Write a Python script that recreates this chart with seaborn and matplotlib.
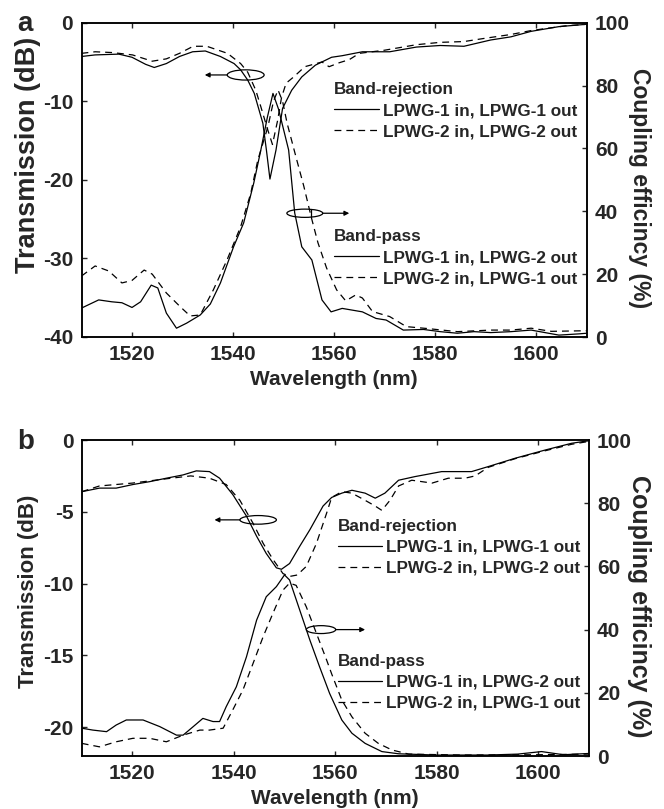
import numpy as np
import matplotlib
matplotlib.use('Agg')
import matplotlib.pyplot as plt
import seaborn as sns
from matplotlib.patches import Ellipse
from matplotlib.lines import Line2D

# ---- panel a : band-rejection (dB, left axis) ----
rej_a_x = [1510, 1512.7, 1517.4, 1520, 1522.7, 1524.4, 1526.8, 1529.4, 1532, 1534.5, 1537.5,
           1540.2, 1541.5, 1542.9, 1544.2, 1545.9, 1546.6, 1547.3, 1548.5, 1549.8, 1551.6, 1553.6,
           1556.3, 1559.5, 1561.6, 1565.6, 1571, 1576.3, 1581, 1585.7, 1591, 1595, 1599, 1604.5, 1610]
rej_a_y = [-4.3, -4.1, -4.0, -4.4, -5.3, -5.7, -5.2, -4.3, -3.7, -3.6, -4.3,
           -5.2, -6.0, -7.3, -9.0, -12.8, -16.2, -19.9, -16.2, -10.9, -8.6, -6.9,
           -5.4, -4.4, -4.2, -3.7, -3.7, -3.1, -2.9, -3.0, -2.2, -1.8, -1.1, -0.5, -0.2]
rej_a_dx = [1510, 1512.7, 1516.1, 1520.1, 1524, 1526.8, 1529.4, 1532.1, 1534.8, 1538.9, 1541.5,
            1542.9, 1544.5, 1545.5, 1546.8, 1547.8, 1548.8, 1549.6, 1550.5, 1552, 1554.2, 1557.6,
            1559, 1561, 1563, 1565, 1570, 1576.3, 1581, 1585.7, 1589.7, 1595, 1599, 1605.8, 1610]
rej_a_dy = [-3.9, -3.7, -3.8, -4.1, -4.9, -4.6, -3.9, -3.0, -3.0, -3.9, -5.2,
            -6.3, -8.6, -10.7, -13.5, -15.5, -12.5, -9.5, -7.7, -6.9, -5.6, -5.0,
            -5.6, -5.1, -4.7, -3.9, -3.5, -2.8, -2.5, -2.4, -2.0, -1.5, -1.0, -0.4, -0.2]

# ---- panel a : band-pass (%, right axis) ----
bp_a_x = [1510, 1513.4, 1516, 1518, 1520, 1521.7, 1523.8, 1525.1, 1526.8, 1528.8, 1530.8, 1533.5,
          1535.5, 1537.5, 1540.1, 1542.1, 1544.1, 1545.5, 1546.8, 1547.9, 1549, 1551, 1552.2,
          1553.6, 1555.6, 1557.6, 1559.4, 1561.6, 1565.6, 1568.3, 1570.3, 1573.7, 1577.7, 1581,
          1584.4, 1587.7, 1591, 1595, 1599, 1604.5, 1608.5, 1610]
bp_a_y = [9.2, 11.8, 11.2, 10.9, 9.4, 11.2, 16.5, 15.6, 7.6, 2.8, 4.4, 7.0,
          10.5, 17.2, 28.7, 36.3, 49.0, 59.5, 70.0, 77.5, 72.5, 59.5, 39.5,
          28.7, 24.5, 11.8, 8.0, 9.1, 8.0, 5.9, 5.4, 2.2, 2.4, 1.7,
          1.2, 1.7, 1.4, 1.7, 2.2, 0.6, 1.0, 1.2]
bp_a_dx = [1510, 1512.7, 1515.4, 1518, 1520, 1522.4, 1524, 1526.8, 1529.5, 1531.5, 1533.5, 1536.1,
           1538.8, 1541.5, 1543.5, 1544.9, 1546.9, 1548, 1548.9, 1549.8, 1550.7, 1552.5, 1554,
           1555.5, 1556.8, 1558.5, 1560.5, 1562.3, 1564.3, 1565.6, 1567.6, 1571, 1574.3, 1578.4,
           1584.4, 1591, 1595, 1599, 1603, 1610]
bp_a_dy = [19.4, 22.6, 21.0, 17.2, 18.0, 21.3, 20.0, 14.0, 9.7, 6.7, 7.0, 15.0,
           24.5, 35.1, 45.7, 56.3, 66.9, 75.0, 78.6, 75.0, 68.0, 57.0, 48.0,
           38.0, 30.0, 22.0, 15.0, 11.5, 13.4, 12.4, 8.1, 6.5, 3.3, 2.7,
           1.7, 2.2, 2.2, 2.8, 1.8, 2.0]

# ---- panel b : band-rejection (dB) ----
rej_b_x = [1510, 1513.5, 1516.8, 1520.1, 1523.4, 1526.7, 1530, 1532.6, 1535.2, 1537.2, 1539.8,
           1542.5, 1544.5, 1546.4, 1548.4, 1549.4, 1551, 1553, 1555, 1557.6, 1559.3, 1561.3,
           1563.3, 1565.9, 1567.9, 1569.8, 1572.5, 1575.7, 1581, 1586.9, 1590.2, 1595.5, 1601.4,
           1606.6, 1610]
rej_b_y = [-3.6, -3.35, -3.35, -3.1, -2.9, -2.66, -2.43, -2.15, -2.2, -2.66, -3.8,
           -5.3, -6.7, -7.9, -8.9, -9.0, -8.6, -7.4, -6.25, -4.6, -4.0, -3.7,
           -3.5, -3.7, -4.05, -3.7, -2.8, -2.55, -2.2, -2.2, -1.85, -1.27, -0.7,
           -0.23, -0.05]
rej_b_dx = [1510, 1513.5, 1520, 1526.7, 1531.5, 1535.2, 1538.5, 1541.2, 1543.8, 1545.8, 1547.7,
            1549.7, 1551, 1552.5, 1554.3, 1556.3, 1558.3, 1559.3, 1561.3, 1563.3, 1565.9, 1567.9,
            1569.2, 1570.8, 1572.5, 1575.1, 1579.1, 1582.3, 1585.6, 1587.6, 1590.2, 1595.5,
            1601.4, 1606.6, 1610]
rej_b_dy = [-3.6, -3.2, -3.0, -2.7, -2.5, -2.66, -3.1, -4.2, -5.8, -7.2, -8.3,
            -9.3, -9.5, -9.4, -8.8, -7.2, -5.1, -4.0, -3.6, -3.7, -4.2, -4.6,
            -4.9, -4.2, -3.2, -2.8, -3.0, -2.66, -2.66, -2.5, -1.9, -1.3,
            -0.75, -0.3, -0.1]

# ---- panel b : band-pass (%) ----
bp_b_x = [1510, 1512.2, 1514.9, 1516.8, 1518.8, 1522.1, 1525.4, 1528.7, 1530, 1532, 1533.9,
          1535.9, 1537.2, 1538.5, 1540.5, 1542.5, 1544.5, 1546.4, 1548.4, 1550, 1551, 1553,
          1555, 1556.9, 1558.9, 1561.3, 1563.3, 1565.9, 1569.2, 1572.5, 1580, 1590, 1596,
          1600.7, 1605, 1610]
bp_b_y = [8.8, 8.2, 7.7, 9.8, 11.4, 11.4, 9.3, 6.6, 6.6, 9.3, 11.9,
          10.9, 10.9, 15.6, 21.9, 31.4, 43.0, 50.4, 53.6, 57.3, 55.7, 46.2,
          36.7, 28.3, 19.8, 11.4, 7.2, 4.0, 1.4, 0.7, 0.3, 0.3, 0.6,
          1.4, 0.4, 0.8]
bp_b_dx = [1510, 1513.5, 1516.8, 1520.1, 1523.4, 1526.7, 1530, 1533.3, 1535.2, 1537.9, 1539.8,
           1541.8, 1543.8, 1545.8, 1547.7, 1549.7, 1551, 1552.3, 1554.3, 1556.3, 1558.3, 1559.3,
           1561.3, 1563.3, 1565.9, 1568.5, 1571.2, 1574.5, 1585, 1600, 1610]
bp_b_dy = [4.0, 2.9, 4.5, 5.6, 5.6, 4.5, 6.6, 8.2, 8.2, 8.8, 14.6,
           20.9, 29.3, 37.8, 45.1, 52.5, 54.7, 54.0, 47.2, 38.8, 30.4, 26.0,
           17.7, 12.4, 7.2, 4.0, 1.9, 0.6, 0.3, 0.4, 0.6]

x_ticks = [1520, 1540, 1560, 1580, 1600]
cpl_ticks = [0, 20, 40, 60, 80, 100]
labels_rej = ['LPWG-1 in, LPWG-1 out', 'LPWG-2 in, LPWG-2 out']
labels_bp = ['LPWG-1 in, LPWG-2 out', 'LPWG-2 in, LPWG-1 out']

sns.set_style('ticks')
plt.rcParams['font.family'] = ['Liberation Sans', 'DejaVu Sans']
plt.rcParams['font.weight'] = 'bold'
plt.rcParams['axes.labelweight'] = 'bold'
plt.rcParams['axes.unicode_minus'] = False

LW = 0.9
DASH = (0, (5.5, 4))
FS = 15
LEG_FS = 12.3


def panel(ax, rx, ry, rdx, rdy, bx, by, bdx, bdy, ylim, yticks, leg_pos, ell_l, ell_r, lab):
    axr = ax.twinx()
    sns.lineplot(x=rx, y=ry, ax=ax, color='k', lw=LW, estimator=None)
    sns.lineplot(x=rdx, y=rdy, ax=ax, color='k', lw=LW, linestyle=DASH, estimator=None)
    sns.lineplot(x=bx, y=by, ax=axr, color='k', lw=LW, estimator=None)
    sns.lineplot(x=bdx, y=bdy, ax=axr, color='k', lw=LW, linestyle=DASH, estimator=None)

    ax.set_xlim(1510, 1610)
    ax.set_ylim(*ylim)
    ax.set_yticks(yticks)
    ax.set_xticks(x_ticks)
    axr.set_ylim(0, 100)
    axr.set_yticks(cpl_ticks)
    ax.set_xlabel('Wavelength (nm)', fontsize=FS, labelpad=4)
    ax.set_ylabel('Transmission (dB)', fontsize=lab[0], labelpad=lab[2])
    axr.set_ylabel('Coupling efficincy (%)', fontsize=lab[1], rotation=270, labelpad=lab[3])
    ax.yaxis.label.set_y(lab[4])
    axr.yaxis.label.set_y(lab[5])
    for a in (ax, axr):
        a.tick_params(direction='in', length=3.5, width=1, labelsize=FS, pad=6)
        for s in a.spines.values():
            s.set_linewidth(1.1)
            s.set_color('k')
    ax.tick_params(top=True)

    # ellipse + arrow markers
    (cx, cy, w, h, tip) = ell_l
    ax.add_patch(Ellipse((cx, cy), w, h, fill=False, lw=LW, ec='k'))
    ax.annotate('', xy=(tip, cy), xytext=(cx - w / 2, cy),
                arrowprops=dict(arrowstyle='-|>', lw=LW, color='k', mutation_scale=7,
                                shrinkA=0, shrinkB=0))
    (cx, cy, w, h, tip) = ell_r
    ax.add_patch(Ellipse((cx, cy), w, h, fill=False, lw=LW, ec='k'))
    ax.annotate('', xy=(tip, cy), xytext=(cx + w / 2, cy),
                arrowprops=dict(arrowstyle='-|>', lw=LW, color='k', mutation_scale=7,
                                shrinkA=0, shrinkB=0))

    hs = [Line2D([], [], color='k', lw=LW), Line2D([], [], color='k', lw=LW, ls=DASH)]
    common = dict(loc='upper left', frameon=False, fontsize=LEG_FS, title_fontsize=LEG_FS,
                  alignment='left', handlelength=2.6, handletextpad=0.25,
                  labelspacing=0.35, borderpad=0, borderaxespad=0)
    l1 = axr.legend(hs, labels_rej, title='Band-rejection',
                    bbox_to_anchor=(leg_pos[0], leg_pos[1]), **common)
    axr.add_artist(l1)
    axr.legend(hs, labels_bp, title='Band-pass',
               bbox_to_anchor=(leg_pos[0], leg_pos[2]), **common)
    return axr


fig = plt.figure(figsize=(6.64, 8.09), dpi=100)
ax_a = fig.add_axes([81.5 / 664, 1 - 337 / 809, 505.2 / 664, 314.3 / 809])
ax_b = fig.add_axes([81.7 / 664, 1 - 756 / 809, 507 / 664, 316 / 809])

panel(ax_a, rej_a_x, rej_a_y, rej_a_dx, rej_a_dy, bp_a_x, bp_a_y, bp_a_dx, bp_a_dy,
      (-40, 0), [-40, -30, -20, -10, 0], (0.500, 0.81, 0.343),
      (1542.5, -6.65, 7.3, 1.3, 1534.4), (1554.2, -24.25, 7.1, 1.05, 1563),
      (19.5, 16.5, 1, 15, 0.58, 0.474))
ax_a.plot([1555.4, 1555.4], [-24.75, -23.75], color='k', lw=LW)

panel(ax_b, rej_b_x, rej_b_y, rej_b_dx, rej_b_dy, bp_b_x, bp_b_y, bp_b_dx, bp_b_dy,
      (-22, 0), [-20, -15, -10, -5, 0], (0.505, 0.75, 0.323),
      (1544.8, -5.56, 7.2, 0.6, 1536.2), (1557.2, -13.2, 5.8, 0.55, 1565.9),
      (16, 18, 3, 14, 0.52, 0.473))

fig.text(25 / 664, 1 - 24 / 809, 'a', fontsize=20, ha='center', va='center')
fig.text(26 / 664, 1 - 442 / 809, 'b', fontsize=20, ha='center', va='center')

fig.savefig('out.png', dpi=100)
